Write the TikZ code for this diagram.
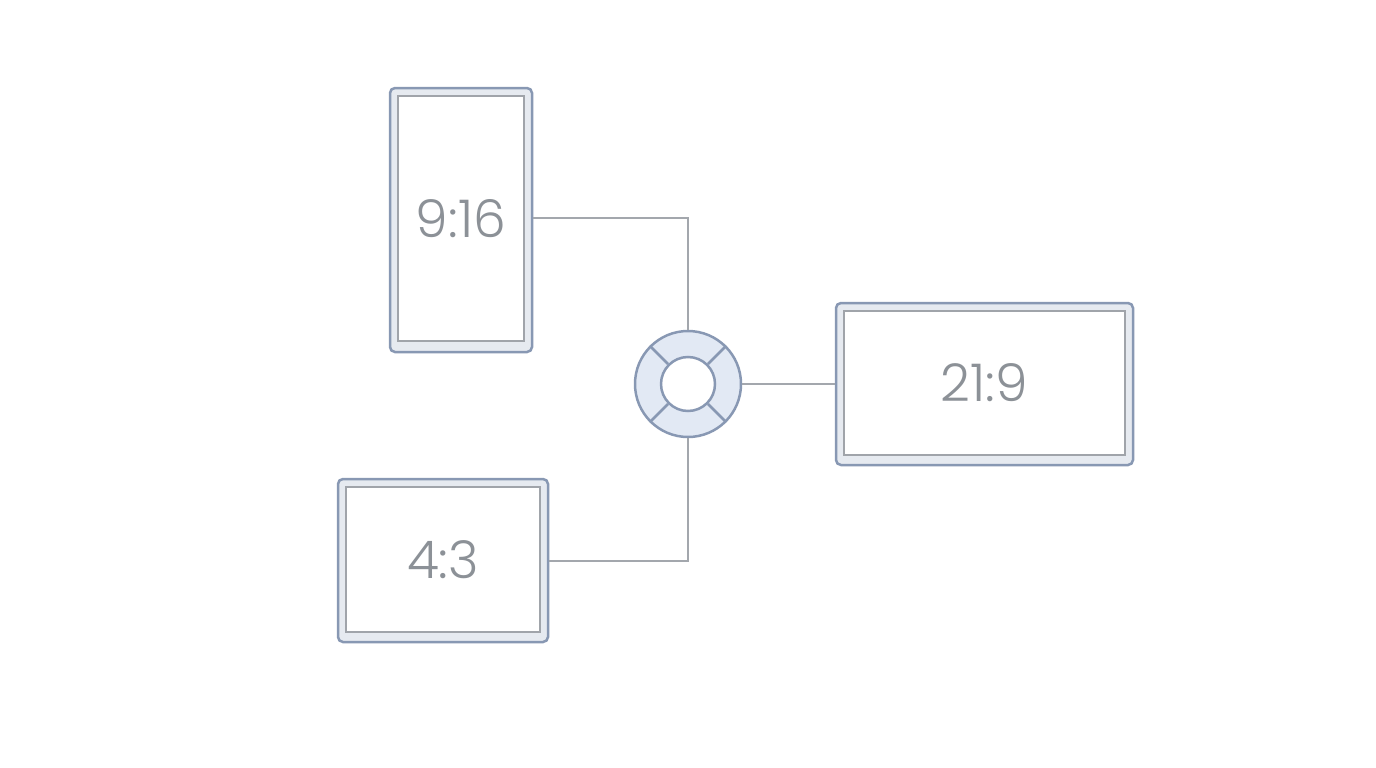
\documentclass[tikz,border=0pt]{standalone}
\usepackage{fontspec}
\setmainfont{Poppins}[UprightFont=* Light]
\definecolor{framec}{HTML}{8898B3}
\definecolor{framefill}{HTML}{E6EAF0}
\definecolor{innerc}{HTML}{A0A4AA}
\definecolor{ringfill}{HTML}{E2E9F4}
\definecolor{linec}{HTML}{A3A7AD}
\definecolor{textc}{HTML}{8C9197}
\tikzset{
  outerframe/.style={draw=framec, fill=framefill, line width=2.5pt, rounded corners=5pt, inner sep=0pt},
  innerframe/.style={draw=innerc, fill=white, line width=2.2pt, inner sep=0pt, text=textc, font=\fontsize{52}{56}\selectfont},
  conn/.style={draw=linec, line width=2pt},
}
\begin{document}
\begin{tikzpicture}[x=1pt,y=-1pt]
\useasboundingbox (0,0) rectangle (1376,768);
\fill[white] (0,0) rectangle (1376,768);
% frames
\node[outerframe, minimum width=142pt, minimum height=264pt] (v916) at (461,220) {};
\node[innerframe, minimum width=126pt, minimum height=245pt] (v916in) at (461,218.5) {9:16};
\node[outerframe, minimum width=210pt, minimum height=163pt] (v43) at (443,560.5) {};
\node[innerframe, minimum width=194pt, minimum height=145pt] (v43in) at (443,559.5) {4:3};
\node[outerframe, minimum width=297pt, minimum height=162pt] (v219) at (984.5,384) {};
\node[innerframe, minimum width=281pt, minimum height=144pt] (v219in) at (984.5,383) {21:9};
% ring
\node[circle, draw=framec, fill=ringfill, line width=2.5pt, minimum size=106pt, inner sep=0pt] (ring) at (688,384) {};
\node[circle, draw=framec, fill=white, line width=2.5pt, minimum size=54pt, inner sep=0pt] (ringin) at (688,384) {};
\foreach \a in {45,135,225,315}
  \draw[framec, line width=2.5pt] (ringin.\a) -- (ring.\a);
% connectors
\draw[conn] (v916.east) ++(0,-2) -| (ring.north);
\draw[conn] (v219.west) -- (ring.east);
\draw[conn] (v43.east) -| (ring.south);
\end{tikzpicture}
\end{document}
